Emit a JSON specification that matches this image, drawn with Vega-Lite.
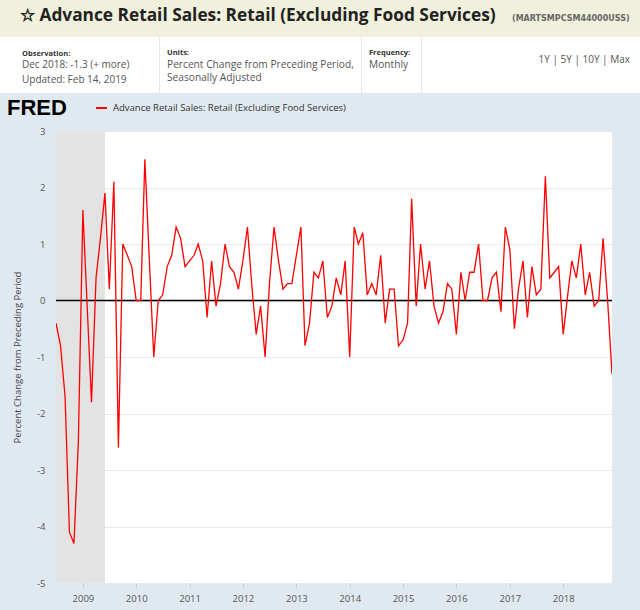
{
  "$schema": "https://vega.github.io/schema/vega-lite/v6.json",
  "padding": 0,
  "background": "#e1e9f0",
  "spacing": 0,
  "resolve": {"scale": {"color": "independent"}, "legend": {"color": "independent"}},
  "config": {
    "view": {"stroke": null},
    "font": "Open Sans",
    "concat": {"spacing": 0}
  },
  "datasets": {
    "blank": [{}],
    "recession": [{"start": "2007-12-01", "end": "2009-06-01"}],
    "sales": [
      {"date": "2008-07-01", "value": -0.4},
      {"date": "2008-08-01", "value": -0.8},
      {"date": "2008-09-01", "value": -1.7},
      {"date": "2008-10-01", "value": -4.1},
      {"date": "2008-11-01", "value": -4.3},
      {"date": "2008-12-01", "value": -2.5},
      {"date": "2009-01-01", "value": 1.6},
      {"date": "2009-02-01", "value": -0.2},
      {"date": "2009-03-01", "value": -1.8},
      {"date": "2009-04-01", "value": 0.4},
      {"date": "2009-05-01", "value": 1.1},
      {"date": "2009-06-01", "value": 1.9},
      {"date": "2009-07-01", "value": 0.2},
      {"date": "2009-08-01", "value": 2.1},
      {"date": "2009-09-01", "value": -2.6},
      {"date": "2009-10-01", "value": 1.0},
      {"date": "2009-11-01", "value": 0.8},
      {"date": "2009-12-01", "value": 0.6},
      {"date": "2010-01-01", "value": 0.0},
      {"date": "2010-02-01", "value": 0.0},
      {"date": "2010-03-01", "value": 2.5},
      {"date": "2010-04-01", "value": 0.7},
      {"date": "2010-05-01", "value": -1.0},
      {"date": "2010-06-01", "value": 0.0},
      {"date": "2010-07-01", "value": 0.1},
      {"date": "2010-08-01", "value": 0.6},
      {"date": "2010-09-01", "value": 0.8},
      {"date": "2010-10-01", "value": 1.3},
      {"date": "2010-11-01", "value": 1.1},
      {"date": "2010-12-01", "value": 0.6},
      {"date": "2011-01-01", "value": 0.7},
      {"date": "2011-02-01", "value": 0.8},
      {"date": "2011-03-01", "value": 1.0},
      {"date": "2011-04-01", "value": 0.7},
      {"date": "2011-05-01", "value": -0.3},
      {"date": "2011-06-01", "value": 0.7},
      {"date": "2011-07-01", "value": -0.1},
      {"date": "2011-08-01", "value": 0.3},
      {"date": "2011-09-01", "value": 1.0},
      {"date": "2011-10-01", "value": 0.6},
      {"date": "2011-11-01", "value": 0.5},
      {"date": "2011-12-01", "value": 0.2},
      {"date": "2012-01-01", "value": 0.7},
      {"date": "2012-02-01", "value": 1.3},
      {"date": "2012-03-01", "value": 0.3},
      {"date": "2012-04-01", "value": -0.6},
      {"date": "2012-05-01", "value": -0.1},
      {"date": "2012-06-01", "value": -1.0},
      {"date": "2012-07-01", "value": 0.3},
      {"date": "2012-08-01", "value": 1.3},
      {"date": "2012-09-01", "value": 0.7},
      {"date": "2012-10-01", "value": 0.2},
      {"date": "2012-11-01", "value": 0.3},
      {"date": "2012-12-01", "value": 0.3},
      {"date": "2013-01-01", "value": 0.8},
      {"date": "2013-02-01", "value": 1.3},
      {"date": "2013-03-01", "value": -0.8},
      {"date": "2013-04-01", "value": -0.4},
      {"date": "2013-05-01", "value": 0.5},
      {"date": "2013-06-01", "value": 0.4},
      {"date": "2013-07-01", "value": 0.7},
      {"date": "2013-08-01", "value": -0.3},
      {"date": "2013-09-01", "value": -0.1},
      {"date": "2013-10-01", "value": 0.4},
      {"date": "2013-11-01", "value": 0.1},
      {"date": "2013-12-01", "value": 0.7},
      {"date": "2014-01-01", "value": -1.0},
      {"date": "2014-02-01", "value": 1.3},
      {"date": "2014-03-01", "value": 1.0},
      {"date": "2014-04-01", "value": 1.2},
      {"date": "2014-05-01", "value": 0.1},
      {"date": "2014-06-01", "value": 0.3},
      {"date": "2014-07-01", "value": 0.1},
      {"date": "2014-08-01", "value": 0.8},
      {"date": "2014-09-01", "value": -0.4},
      {"date": "2014-10-01", "value": 0.2},
      {"date": "2014-11-01", "value": 0.2},
      {"date": "2014-12-01", "value": -0.8},
      {"date": "2015-01-01", "value": -0.7},
      {"date": "2015-02-01", "value": -0.4},
      {"date": "2015-03-01", "value": 1.8},
      {"date": "2015-04-01", "value": -0.1},
      {"date": "2015-05-01", "value": 1.0},
      {"date": "2015-06-01", "value": 0.2},
      {"date": "2015-07-01", "value": 0.7},
      {"date": "2015-08-01", "value": -0.1},
      {"date": "2015-09-01", "value": -0.4},
      {"date": "2015-10-01", "value": -0.2},
      {"date": "2015-11-01", "value": 0.3},
      {"date": "2015-12-01", "value": 0.2},
      {"date": "2016-01-01", "value": -0.6},
      {"date": "2016-02-01", "value": 0.5},
      {"date": "2016-03-01", "value": 0.0},
      {"date": "2016-04-01", "value": 0.5},
      {"date": "2016-05-01", "value": 0.5},
      {"date": "2016-06-01", "value": 1.0},
      {"date": "2016-07-01", "value": 0.0},
      {"date": "2016-08-01", "value": 0.0},
      {"date": "2016-09-01", "value": 0.4},
      {"date": "2016-10-01", "value": 0.5},
      {"date": "2016-11-01", "value": -0.2},
      {"date": "2016-12-01", "value": 1.3},
      {"date": "2017-01-01", "value": 0.9},
      {"date": "2017-02-01", "value": -0.5},
      {"date": "2017-03-01", "value": 0.2},
      {"date": "2017-04-01", "value": 0.7},
      {"date": "2017-05-01", "value": -0.3},
      {"date": "2017-06-01", "value": 0.6},
      {"date": "2017-07-01", "value": 0.1},
      {"date": "2017-08-01", "value": 0.2},
      {"date": "2017-09-01", "value": 2.2},
      {"date": "2017-10-01", "value": 0.4},
      {"date": "2017-11-01", "value": 0.5},
      {"date": "2017-12-01", "value": 0.6},
      {"date": "2018-01-01", "value": -0.6},
      {"date": "2018-02-01", "value": 0.1},
      {"date": "2018-03-01", "value": 0.7},
      {"date": "2018-04-01", "value": 0.4},
      {"date": "2018-05-01", "value": 1.0},
      {"date": "2018-06-01", "value": 0.1},
      {"date": "2018-07-01", "value": 0.5},
      {"date": "2018-08-01", "value": -0.1},
      {"date": "2018-09-01", "value": 0.0},
      {"date": "2018-10-01", "value": 1.1},
      {"date": "2018-11-01", "value": 0.0},
      {"date": "2018-12-01", "value": -1.3}
    ]
  },
  "vconcat": [
    {
      "hconcat": [
        {
          "width": 508,
          "height": 37,
          "view": {"fill": "#f0f0dc", "stroke": null},
          "data": {"name": "blank"},
          "mark": {"type": "text", "text": ""},
          "encoding": {},
          "title": {
            "text": "☆  Advance Retail Sales: Retail (Excluding Food Services)",
            "anchor": "start",
            "orient": "top",
            "offset": -24,
            "dx": 20,
            "font": "Open Sans",
            "fontSize": 17.3,
            "fontWeight": "bold",
            "color": "#222222"
          }
        },
        {
          "width": 132,
          "height": 37,
          "view": {"fill": "#f0f0dc", "stroke": null},
          "data": {"name": "blank"},
          "mark": {"type": "text", "text": ""},
          "encoding": {},
          "title": {
            "text": "(MARTSMPCSM44000USS)",
            "anchor": "start",
            "orient": "top",
            "offset": -23,
            "dx": 4,
            "font": "DejaVu Sans",
            "fontSize": 8,
            "fontWeight": "bold",
            "color": "#666666"
          }
        }
      ]
    },
    {
      "hconcat": [
        {
          "width": 159,
          "height": 56,
          "view": {"fill": "#ffffff", "stroke": null},
          "data": {"name": "blank"},
          "mark": {"type": "text", "text": ""},
          "encoding": {},
          "title": {
            "text": "Observation:",
            "subtitle": ["Dec 2018: -1.3 (+ more)", "Updated: Feb 14, 2019"],
            "anchor": "start",
            "orient": "top",
            "offset": -48,
            "dx": 22,
            "fontSize": 7.5,
            "fontWeight": "bold",
            "color": "#333333",
            "subtitleFontSize": 10,
            "subtitleColor": "#555555",
            "subtitleLineHeight": 15,
            "subtitlePadding": 3
          }
        },
        {
          "width": 201,
          "height": 56,
          "view": {"fill": "#ffffff", "stroke": null},
          "data": {"name": "blank"},
          "mark": {"type": "text", "text": ""},
          "encoding": {},
          "title": {
            "text": "Units:",
            "subtitle": ["Percent Change from Preceding Period,", "Seasonally Adjusted"],
            "anchor": "start",
            "orient": "top",
            "offset": -46,
            "dx": 7,
            "fontSize": 7.5,
            "fontWeight": "bold",
            "color": "#333333",
            "subtitleFontSize": 10.2,
            "subtitleColor": "#555555",
            "subtitleLineHeight": 13,
            "subtitlePadding": 3
          }
        },
        {
          "width": 59,
          "height": 56,
          "view": {"fill": "#ffffff", "stroke": null},
          "data": {"name": "blank"},
          "mark": {"type": "text", "text": ""},
          "encoding": {},
          "title": {
            "text": "Frequency:",
            "subtitle": ["Monthly"],
            "anchor": "start",
            "orient": "top",
            "offset": -33,
            "dx": 7,
            "fontSize": 7.5,
            "fontWeight": "bold",
            "color": "#333333",
            "subtitleFontSize": 10.2,
            "subtitleColor": "#555555",
            "subtitlePadding": 3
          }
        },
        {
          "width": 218,
          "height": 56,
          "view": {"fill": "#ffffff", "stroke": null},
          "data": {"name": "blank"},
          "mark": {"type": "text", "text": ""},
          "encoding": {},
          "title": {
            "text": "1Y | 5Y | 10Y | Max",
            "anchor": "end",
            "orient": "top",
            "offset": -28,
            "dx": -10,
            "fontSize": 10,
            "fontWeight": "normal",
            "color": "#555555"
          }
        }
      ],
      "spacing": 1
    },
    {
      "resolve": {"scale": {"color": "independent"}, "legend": {"color": "independent"}},
      "hconcat": [
        {
          "width": 1,
          "height": 1,
          "data": {"name": "blank"},
          "mark": {"type": "text", "text": ""},
          "encoding": {}
        },
        {
          "width": 556,
          "height": 452,
          "view": {"fill": "#ffffff", "stroke": null},
          "layer": [
            {
              "data": {"name": "recession"},
              "mark": {"type": "rect", "color": "#e3e3e3", "clip": true},
              "encoding": {
                "x": {
                  "field": "start",
                  "type": "temporal",
                  "scale": {"type": "utc", "domain": [{"year": 2008, "month": 7, "date": 1, "utc": true}, {"year": 2018, "month": 12, "date": 1, "utc": true}]},
                  "axis": {
                    "title": null,
                    "format": "%Y",
                    "tickCount": {"interval": "year", "step": 1},
                    "grid": false,
                    "domain": false,
                    "tickSize": 4,
                    "tickColor": "#c5ced8",
                    "labelColor": "#555555",
                    "labelFontSize": 9.5,
                    "labelPadding": 6,
                    "labelFlush": false
                  }
                },
                "x2": {"field": "end"}
              }
            },
            {
              "data": {"name": "blank"},
              "mark": {"type": "rule", "color": "#000000", "strokeWidth": 1.6},
              "encoding": {"y": {"datum": 0, "type": "quantitative"}}
            },
            {
              "data": {"name": "sales"},
              "mark": {"type": "line", "strokeWidth": 1.3, "clip": true},
              "encoding": {
                "x": {
                  "field": "date",
                  "type": "temporal",
                  "scale": {"type": "utc", "domain": [{"year": 2008, "month": 7, "date": 1, "utc": true}, {"year": 2018, "month": 12, "date": 1, "utc": true}]},
                  "axis": {
                    "title": null,
                    "format": "%Y",
                    "tickCount": {"interval": "year", "step": 1},
                    "grid": false,
                    "domain": false,
                    "tickSize": 4,
                    "tickColor": "#c5ced8",
                    "labelColor": "#555555",
                    "labelFontSize": 9.5,
                    "labelPadding": 6,
                    "labelFlush": false
                  }
                },
                "y": {
                  "field": "value",
                  "type": "quantitative",
                  "scale": {"domain": [-5, 3], "nice": false, "zero": false},
                  "axis": {
                    "title": "Percent Change from Preceding Period",
                    "values": [-5, -4, -3, -2, -1, 0, 1, 2, 3],
                    "labelExpr": "'' + datum.value",
                    "grid": true,
                    "gridColor": "#e8e8e8",
                    "domain": false,
                    "ticks": false,
                    "labelPadding": 11,
                    "labelColor": "#555555",
                    "labelFontSize": 9.5,
                    "titleFontSize": 9.5,
                    "titleFontWeight": "normal",
                    "titleColor": "#444444",
                    "titlePadding": 14
                  }
                },
                "color": {
                  "datum": "Advance Retail Sales: Retail (Excluding Food Services)",
                  "type": "nominal",
                  "scale": {"range": ["#ff0000"]},
                  "legend": {
                    "orient": "none",
                    "legendX": -55,
                    "legendY": -38,
                    "padding": 6,
                    "title": "FRED",
                    "titleOrient": "left",
                    "titleFont": "Liberation Sans",
                    "titleFontSize": 22,
                    "titleFontWeight": 900,
                    "titleColor": "#000000",
                    "titlePadding": 28,
                    "titleAnchor": "middle",
                    "titleBaseline": "middle",
                    "clipHeight": 18,
                    "symbolType": "stroke",
                    "symbolStrokeWidth": 2,
                    "symbolSize": 120,
                    "labelFontSize": 9.5,
                    "labelColor": "#333333",
                    "labelOffset": 5,
                    "labelLimit": 400
                  }
                }
              }
            }
          ]
        }
      ]
    },
    {
      "width": 1,
      "height": 6,
      "data": {"name": "blank"},
      "mark": {"type": "text", "text": ""},
      "encoding": {}
    }
  ]
}
